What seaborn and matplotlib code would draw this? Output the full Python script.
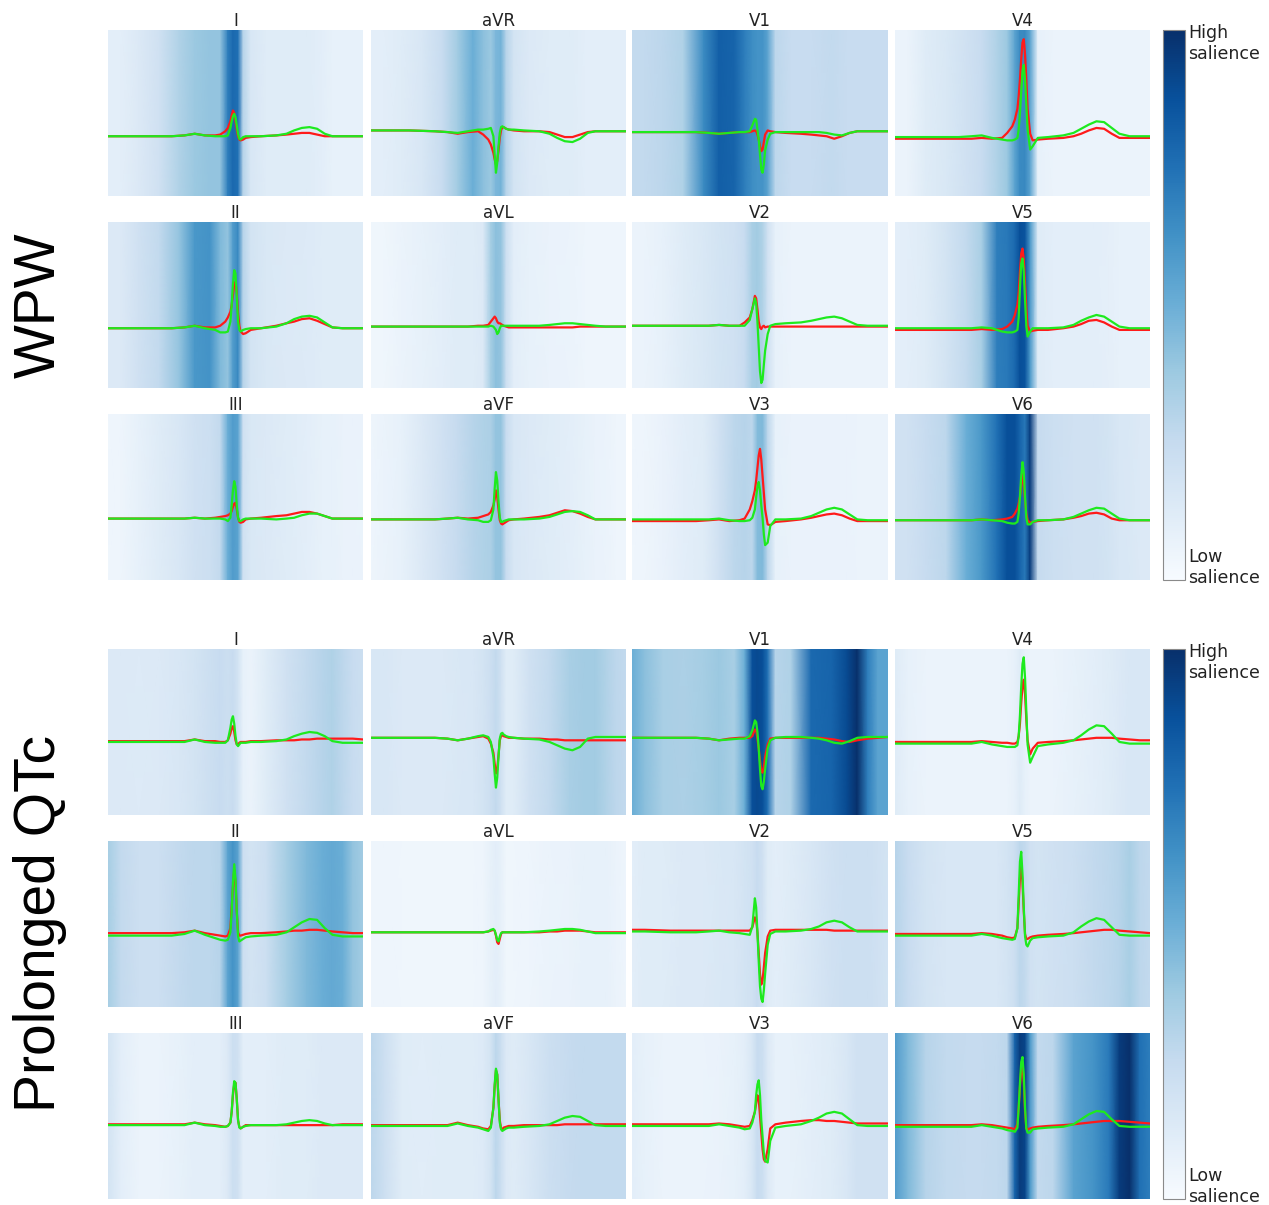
import numpy as np
import matplotlib
matplotlib.use("Agg")
import matplotlib.pyplot as plt
import seaborn as sns
from matplotlib.cm import ScalarMappable
from matplotlib.colors import Normalize

sns.set_style("white")

# lead layout (rows x columns) used for both groups
leads = [["I", "aVR", "V1", "V4"],
         ["II", "aVL", "V2", "V5"],
         ["III", "aVF", "V3", "V6"]]

# time grid for the averaged beats (fraction of window)
t = [0.00, 0.05, 0.15, 0.25, 0.30, 0.34, 0.38, 0.42, 0.44, 0.46, 0.47, 0.48, 0.485, 0.49, 0.495,
     0.50, 0.505, 0.51, 0.515, 0.52, 0.53, 0.54, 0.56, 0.60, 0.66, 0.70, 0.73, 0.76, 0.79, 0.82,
     0.85, 0.88, 0.92, 0.96, 1.00]
# time grid for the salience maps
ts = [0, 0.05, 0.12, 0.2, 0.28, 0.34, 0.40, 0.44, 0.47, 0.49, 0.51, 0.53, 0.56, 0.62, 0.70, 0.78,
      0.84, 0.88, 0.92, 0.96, 1.0]

# ---- WPW ----
wpw_red = {
    "I":   [-28,-28,-28,-28,-27,-25,-27,-27,-26,-22,-18,-10,-3,3,0,-10,-20,-28,-32,-33,-32,-30,-29,-28,-27,-26,-25,-24,-24,-26,-28,-28,-28,-28,-28],
    "aVR": [-21,-21,-21,-22,-23,-25,-23,-22,-26,-32,-38,-48,-56,-62,-58,-45,-30,-21,-17,-17,-19,-20,-21,-22,-22,-23,-26,-29,-29,-26,-23,-22,-22,-22,-22],
    "V1":  [-23,-23,-23,-23,-24,-25,-24,-23,-23,-23,-22,-21,-22,-26,-32,-40,-46,-44,-35,-26,-21,-22,-23,-24,-25,-26,-27,-28,-31,-28,-24,-22,-22,-22,-22],
    "V4":  [-31,-31,-31,-31,-31,-30,-31,-30,-24,-16,-8,5,20,40,65,85,89,70,40,5,-25,-33,-32,-31,-30,-28,-25,-21,-18,-19,-25,-30,-30,-30,-30],
    "II":  [-28,-28,-28,-28,-27,-25,-27,-27,-25,-20,-15,-8,0,12,25,28,15,-10,-25,-32,-35,-34,-30,-28,-25,-22,-20,-17,-16,-19,-23,-27,-28,-28,-28],
    "aVL": [-26,-26,-26,-26,-26,-26,-26,-25,-25,-24,-20,-16,-14,-16,-20,-22,-22,-23,-24,-25,-26,-27,-27,-27,-27,-27,-27,-27,-27,-26,-26,-26,-26,-26,-26],
    "V2":  [-25,-25,-25,-25,-25,-24,-25,-25,-21,-15,-5,11,8,-5,-20,-27,-29,-26,-25,-27,-26,-26,-26,-26,-26,-26,-26,-26,-26,-26,-26,-26,-26,-26,-26],
    "V5":  [-30,-30,-30,-30,-30,-29,-30,-29,-26,-20,-12,0,15,40,62,68,55,25,-5,-25,-32,-31,-30,-30,-28,-26,-23,-19,-18,-21,-26,-30,-30,-30,-30],
    "III": [-26,-26,-26,-26,-26,-25,-26,-25,-24,-23,-22,-20,-17,-12,-8,-7,-15,-25,-30,-31,-30,-27,-26,-25,-23,-22,-20,-18,-18,-20,-23,-26,-26,-26,-26],
    "aVF": [-27,-27,-27,-27,-26,-25,-26,-25,-23,-21,-18,-10,-3,8,0,-15,-28,-32,-33,-32,-30,-28,-27,-26,-24,-22,-19,-16,-17,-20,-24,-27,-27,-27,-27],
    "V3":  [-29,-29,-29,-29,-28,-27,-29,-28,-26,-15,-5,8,20,35,50,58,45,25,5,-15,-33,-34,-30,-29,-27,-25,-23,-21,-20,-22,-26,-29,-29,-29,-29],
    "V6":  [-28,-28,-28,-28,-28,-27,-28,-27,-26,-24,-20,-14,-8,0,15,28,15,-5,-20,-28,-31,-30,-29,-28,-27,-25,-23,-20,-19,-21,-26,-28,-28,-28,-28],
}
wpw_green = {
    "I":   [-28,-28,-28,-28,-27,-25,-27,-28,-28,-28,-27,-18,-10,-4,-1,-5,-15,-25,-31,-32,-29,-28,-28,-28,-27,-25,-21,-18,-17,-19,-25,-28,-28,-28,-28],
    "aVR": [-21,-21,-21,-22,-23,-24,-22,-20,-20,-19,-18,-28,-50,-72,-60,-40,-24,-17,-16,-17,-19,-20,-20,-21,-22,-25,-30,-34,-35,-31,-24,-22,-22,-22,-22],
    "V1":  [-23,-23,-23,-23,-24,-25,-24,-23,-23,-22,-15,-7,-8,-20,-32,-50,-68,-72,-62,-45,-32,-25,-23,-23,-23,-23,-23,-24,-26,-27,-24,-22,-22,-22,-22],
    "V4":  [-29,-29,-29,-29,-28,-27,-30,-32,-33,-33,-32,-30,-20,0,25,50,58,40,10,-20,-44,-40,-30,-29,-27,-24,-19,-14,-10,-11,-18,-25,-28,-28,-28],
    "II":  [-28,-28,-28,-28,-27,-25,-28,-30,-33,-33,-32,-20,0,25,42,38,10,-20,-30,-32,-30,-29,-28,-28,-26,-22,-17,-14,-13,-15,-21,-27,-28,-28,-28],
    "aVL": [-26,-26,-26,-26,-26,-26,-26,-26,-26,-26,-25,-26,-28,-30,-35,-33,-28,-25,-25,-25,-25,-25,-25,-25,-25,-24,-23,-22,-22,-23,-24,-25,-26,-26,-26],
    "V2":  [-25,-25,-25,-25,-25,-24,-25,-25,-25,-18,-5,8,2,-20,-50,-80,-94,-90,-72,-55,-35,-25,-23,-22,-21,-19,-17,-15,-14,-16,-20,-24,-25,-25,-25],
    "V5":  [-28,-28,-28,-28,-28,-27,-28,-32,-33,-33,-32,-30,-15,20,50,56,40,5,-25,-38,-32,-28,-28,-28,-27,-24,-19,-15,-12,-14,-20,-26,-28,-28,-28],
    "III": [-26,-26,-26,-26,-26,-25,-26,-26,-26,-27,-29,-25,-10,8,19,12,-10,-25,-29,-29,-27,-26,-26,-26,-27,-26,-25,-22,-20,-20,-23,-26,-26,-26,-26],
    "aVF": [-27,-27,-27,-27,-26,-25,-27,-28,-30,-30,-28,-15,10,30,20,-5,-25,-30,-30,-29,-28,-27,-27,-27,-26,-24,-21,-18,-17,-18,-22,-27,-27,-27,-27],
    "V3":  [-27,-27,-27,-27,-27,-26,-28,-29,-29,-28,-25,-15,0,12,18,8,-10,-25,-45,-58,-55,-35,-27,-27,-26,-23,-19,-15,-13,-15,-21,-27,-28,-28,-28],
    "V6":  [-28,-28,-28,-28,-28,-27,-28,-29,-31,-32,-32,-30,-20,0,25,42,30,0,-25,-33,-33,-30,-28,-28,-27,-24,-20,-16,-13,-14,-20,-26,-28,-28,-28],
}
wpw_sal = {
    "I":   [10,10,14,20,32,38,40,40,70,78,75,30,16,12,12,12,10,8,8,8,8],
    "aVR": [10,10,12,16,24,36,50,42,38,46,48,30,18,14,12,12,10,10,10,10,10],
    "V1":  [26,26,28,32,65,82,80,70,64,62,62,55,28,24,24,26,24,24,24,24,24],
    "V4":  [6,6,12,15,20,24,32,38,55,65,66,55,8,6,6,6,6,6,6,6,6],
    "II":  [14,14,20,26,40,60,62,45,40,58,66,30,18,15,14,13,12,12,12,12,12],
    "aVL": [4,4,6,8,10,12,12,14,35,42,40,22,10,8,7,6,5,5,5,5,5],
    "V2":  [6,6,8,12,15,18,20,24,34,36,32,20,8,6,6,6,6,6,6,6,6],
    "V5":  [10,10,12,18,26,34,70,72,78,88,86,60,12,10,10,10,9,8,8,8,8],
    "III": [4,5,8,12,16,20,22,26,50,58,55,20,15,14,12,10,8,8,7,7,6],
    "aVF": [5,6,8,14,20,25,30,32,33,40,40,24,16,14,12,10,8,7,6,5,5],
    "V3":  [4,5,7,10,12,20,28,30,28,44,45,28,8,7,7,7,7,6,6,6,6],
    "V6":  [20,20,24,28,50,60,75,88,88,80,72,95,25,22,20,20,18,16,15,14,14],
}

# ---- Prolonged QTc ----
qtc_red = {
    "I":   [-11,-11,-11,-11,-11,-9,-11,-11,-12,-12,-10,-2,5,7,0,-10,-15,-15,-13,-12,-12,-12,-11,-11,-10,-10,-10,-9,-9,-8,-8,-8,-8,-8,-9],
    "aVR": [-7,-7,-7,-7,-8,-10,-8,-6,-5,-8,-14,-25,-38,-50,-45,-28,-10,-5,-4,-5,-6,-7,-7,-8,-8,-9,-9,-10,-10,-10,-10,-10,-10,-10,-10],
    "V1":  [-7,-7,-7,-7,-8,-10,-8,-7,-7,-7,-5,3,2,-8,-20,-35,-47,-49,-42,-30,-15,-8,-7,-7,-7,-7,-7,-8,-9,-11,-12,-10,-8,-7,-6],
    "V4":  [-12,-12,-12,-12,-12,-11,-12,-13,-13,-14,-14,-12,-5,10,35,55,63,45,15,-10,-27,-20,-13,-12,-11,-10,-9,-8,-7,-7,-7,-8,-9,-10,-10],
    "II":  [-11,-11,-11,-11,-10,-8,-11,-13,-14,-15,-14,-5,20,45,65,50,15,-10,-14,-14,-13,-12,-11,-11,-10,-9,-8,-8,-7,-7,-8,-9,-10,-11,-11],
    "aVL": [-10,-10,-10,-10,-10,-10,-10,-10,-10,-9,-8,-7,-8,-14,-22,-24,-18,-12,-10,-10,-10,-10,-10,-10,-10,-9,-9,-8,-8,-8,-9,-10,-10,-10,-10],
    "V2":  [-7,-7,-8,-8,-8,-8,-8,-8,-8,-8,-4,8,5,-10,-35,-60,-73,-68,-52,-35,-15,-8,-7,-7,-7,-7,-7,-7,-8,-8,-8,-8,-8,-8,-8],
    "V5":  [-12,-12,-12,-12,-12,-11,-12,-14,-16,-17,-16,-5,25,55,69,50,15,-12,-18,-18,-16,-15,-14,-13,-12,-11,-10,-9,-8,-7,-7,-8,-9,-10,-11],
    "III": [-10,-10,-10,-10,-10,-8,-10,-11,-12,-13,-12,-8,5,25,38,40,20,-5,-13,-15,-13,-11,-11,-11,-11,-11,-11,-11,-11,-11,-11,-11,-10,-10,-10],
    "aVF": [-11,-11,-11,-11,-11,-8,-11,-13,-15,-16,-12,10,35,55,50,20,-5,-15,-16,-14,-13,-12,-12,-11,-11,-11,-11,-10,-10,-10,-10,-10,-10,-10,-10],
    "V3":  [-10,-10,-10,-10,-10,-9,-10,-12,-13,-12,-5,5,15,25,20,0,-20,-40,-52,-55,-40,-15,-10,-8,-6,-5,-5,-6,-6,-7,-8,-9,-9,-9,-9],
    "V6":  [-11,-11,-11,-11,-11,-10,-11,-13,-14,-15,-16,-10,10,35,55,60,40,5,-15,-16,-15,-14,-13,-12,-11,-10,-9,-8,-7,-6,-6,-6,-7,-8,-9],
}
qtc_green = {
    "I":   [-12,-12,-12,-12,-12,-9,-12,-13,-13,-13,-10,5,15,19,10,-5,-15,-17,-15,-13,-13,-13,-12,-12,-11,-9,-5,-2,0,-1,-5,-11,-13,-13,-13],
    "aVR": [-7,-7,-7,-7,-8,-10,-8,-5,-4,-6,-12,-30,-50,-67,-55,-30,-8,-2,-1,-3,-5,-6,-7,-8,-9,-12,-16,-20,-22,-18,-8,-6,-6,-6,-6],
    "V1":  [-7,-7,-7,-7,-8,-10,-9,-8,-8,-5,2,14,12,0,-20,-45,-65,-69,-60,-45,-20,-10,-7,-6,-6,-7,-8,-10,-13,-14,-11,-7,-6,-6,-6],
    "V4":  [-14,-14,-14,-14,-14,-12,-15,-17,-18,-18,-18,-16,-5,20,55,82,90,65,25,-15,-37,-30,-17,-15,-13,-10,-4,3,8,7,-2,-12,-14,-14,-14],
    "II":  [-14,-14,-14,-14,-12,-8,-13,-17,-19,-20,-19,-10,15,50,72,55,15,-15,-21,-20,-18,-16,-15,-14,-13,-10,-4,2,6,5,-5,-13,-15,-15,-15],
    "aVL": [-10,-10,-10,-10,-10,-10,-10,-10,-10,-9,-7,-6,-8,-13,-19,-21,-15,-11,-10,-10,-10,-10,-10,-10,-9,-8,-7,-6,-6,-7,-9,-11,-11,-11,-11],
    "V2":  [-9,-9,-10,-10,-9,-8,-10,-11,-12,-13,-3,31,20,-10,-45,-75,-90,-94,-80,-60,-25,-12,-9,-9,-8,-6,-3,2,4,2,-4,-9,-9,-9,-9],
    "V5":  [-14,-14,-14,-14,-14,-12,-14,-17,-18,-19,-18,-5,35,75,87,60,20,-15,-25,-27,-20,-17,-16,-15,-14,-10,-3,3,7,5,-4,-13,-14,-14,-14],
    "III": [-11,-11,-11,-11,-11,-8,-11,-12,-13,-13,-12,-8,5,28,42,40,20,-5,-14,-15,-13,-12,-11,-11,-11,-10,-8,-6,-5,-6,-9,-11,-11,-11,-11],
    "aVF": [-12,-12,-12,-12,-12,-9,-12,-14,-16,-18,-14,10,38,57,50,20,-8,-16,-18,-17,-15,-14,-14,-13,-12,-10,-6,-2,0,-1,-6,-11,-12,-12,-12],
    "V3":  [-12,-12,-12,-12,-12,-10,-12,-14,-16,-15,-8,5,25,38,43,25,-5,-25,-45,-54,-56,-30,-14,-12,-10,-6,-2,3,5,3,-4,-11,-12,-12,-12],
    "V6":  [-13,-13,-13,-13,-13,-11,-13,-15,-17,-18,-19,-14,10,40,65,71,50,10,-15,-20,-20,-16,-15,-14,-13,-10,-4,2,6,5,-4,-12,-13,-13,-13],
}
qtc_sal = {
    "I":   [14,14,13,14,16,18,22,24,22,24,18,8,6,12,20,26,30,32,28,24,22],
    "aVR": [16,16,14,14,14,15,16,18,22,26,20,12,12,20,26,34,36,36,32,28,26],
    "V1":  [50,42,34,33,35,38,34,50,88,90,88,75,30,32,78,80,90,100,70,55,55],
    "V4":  [12,8,6,6,6,6,6,6,8,12,8,6,6,6,8,10,12,14,16,16,16],
    "II":  [35,26,22,22,26,28,28,30,55,62,55,22,18,22,35,45,50,52,50,40,36],
    "aVL": [5,5,4,4,4,4,4,5,8,10,8,4,4,5,6,7,8,8,8,6,5],
    "V2":  [10,12,12,14,14,15,16,18,20,24,20,12,10,12,16,20,22,22,22,20,18],
    "V5":  [30,24,18,16,16,16,16,18,22,28,26,20,18,20,22,26,28,30,34,28,26],
    "III": [18,10,6,6,8,10,10,10,14,22,20,10,10,10,12,12,14,14,14,14,14],
    "aVF": [28,22,12,11,12,12,12,13,18,28,22,14,12,16,22,25,26,26,26,26,26],
    "V3":  [10,8,6,6,6,7,8,10,16,24,22,14,8,8,10,12,16,20,20,20,20],
    "V6":  [58,45,30,26,25,25,26,28,80,95,92,60,26,28,55,62,72,95,100,75,70],
}

groups = [("WPW", wpw_red, wpw_green, wpw_sal, 30),
          ("Prolonged QTc", qtc_red, qtc_green, qtc_sal, 649)]

W, H = 1269, 1205
fig = plt.figure(figsize=(W / 100, H / 100), dpi=100)

col_left = [108, 371, 632, 895]
col_w = [255, 255, 256, 255]
row_step, row_h = 192, 166


def fig_rect(x, y, w, h):
    return [x / W, 1 - (y + h) / H, w / W, h / H]


for name, red, green, sal, top in groups:
    for r in range(3):
        for c in range(4):
            lead = leads[r][c]
            ax = fig.add_axes(fig_rect(col_left[c], top + r * row_step, col_w[c], row_h))
            s = np.array(sal[lead], dtype=float)
            ax.pcolormesh(ts, [-100, 100], np.vstack([s, s]), cmap="Blues",
                          vmin=0, vmax=100, shading="gouraud")
            sns.lineplot(x=t, y=red[lead], ax=ax, color="#ff1a1a", lw=1.6, sort=False)
            sns.lineplot(x=t, y=green[lead], ax=ax, color="#1eea1e", lw=1.6, sort=False)
            ax.set_xlim(0, 1)
            ax.set_ylim(-100, 100)
            ax.set_axis_off()
            ax.set_title(lead, fontsize=12, pad=3, color="#222222")

    # colour bar for the group
    cax = fig.add_axes(fig_rect(1163, top, 22, 3 * row_h + 2 * (row_step - row_h)))
    cb = fig.colorbar(ScalarMappable(norm=Normalize(0, 100), cmap="Blues"), cax=cax)
    cb.set_ticks([])
    cb.outline.set_edgecolor("#8a8a8a")
    cb.outline.set_linewidth(0.8)
    fig.text(1188 / W, 1 - (top - 6) / H, "High\nsalience", ha="left", va="top",
             fontsize=12.5, color="#222222")
    fig.text(1188 / W, 1 - (top + 3 * row_h + 2 * (row_step - row_h) + 7) / H, "Low\nsalience",
             ha="left", va="bottom", fontsize=12.5, color="#222222")

    # group label
    mid = top + (3 * row_h + 2 * (row_step - row_h)) / 2
    fig.text(40 / W, 1 - mid / H, name, rotation=90, ha="center", va="center",
             fontsize=41, family="Liberation Sans", color="black")

fig.savefig("out.png", dpi=100)
